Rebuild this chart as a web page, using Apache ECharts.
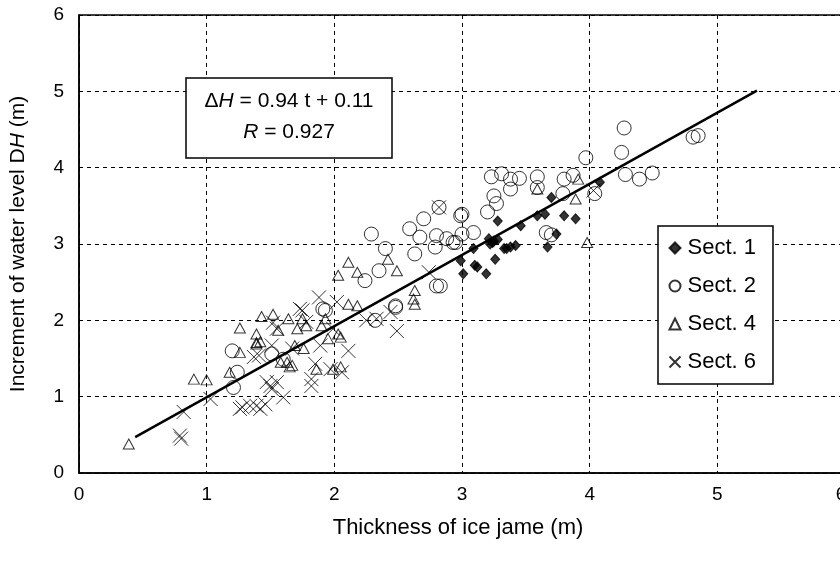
<!DOCTYPE html>
<html lang="en">
<head>
<meta charset="UTF-8">
<title>Ice jam thickness vs water level</title>
<style>
    * { margin: 0; padding: 0; }
    #chart { width: 840px; height: 561px; background: #fff; }
</style>
<script src="https://cdn.jsdelivr.net/npm/echarts@6/dist/echarts.min.js"></script>
</head>
<body>
<div id="chart"></div>
<script>
// [thickness t (m), increment dH (m)]
var sect1 = [[3.28,3.30],[2.99,2.78],[3.01,2.61],[3.09,2.94],[3.10,2.72],[3.12,2.70],[3.19,2.61],
    [3.21,3.07],[3.22,3.00],[3.25,3.04],[3.26,2.80],[3.33,2.94],[3.35,2.94],[3.38,2.96],[3.42,2.98],
    [3.46,3.24],[3.59,3.37],[3.65,3.39],[3.70,3.61],[3.74,3.13],[3.67,2.96],[3.80,3.37],[3.89,3.33],
    [4.08,3.81],[3.24,3.02],[3.28,3.06]];
var sect2 = [[4.27,4.52],[4.25,4.20],[4.28,3.91],[4.39,3.85],[4.49,3.93],[4.81,4.40],[4.85,4.42],
    [3.97,4.13],[3.87,3.90],[3.80,3.85],[3.79,3.66],[4.04,3.66],[3.59,3.88],[3.59,3.74],[3.45,3.86],
    [3.38,3.85],[3.31,3.92],[3.23,3.88],[3.25,3.63],[3.27,3.53],[3.20,3.42],[3.38,3.72],[3.00,3.39],
    [3.66,3.15],[2.83,2.45],[2.88,3.07],[2.95,3.02],[3.00,3.13],[3.09,3.15],[2.29,3.13],[2.40,2.94],
    [2.35,2.65],[2.24,2.52],[2.80,2.45],[2.82,3.48],[2.70,3.33],[2.59,3.20],[2.67,3.09],[2.80,3.11],
    [2.63,2.87],[2.79,2.96],[2.93,3.02],[2.99,3.37],[2.48,2.17],[2.32,2.00],[1.93,2.13],[1.20,1.60],
    [1.21,1.12],[1.24,1.32],[1.51,1.56],[1.60,1.49],[1.91,2.15],[2.48,2.19],[3.70,3.12]];
var sect4 = [[0.39,0.38],[0.90,1.23],[1.00,1.22],[1.26,1.90],[1.43,2.05],[1.52,2.08],[1.39,1.82],
    [1.39,1.71],[1.42,1.72],[1.26,1.58],[1.18,1.32],[1.39,1.69],[1.64,2.02],[1.71,1.89],[1.78,1.93],
    [1.56,1.87],[1.65,1.39],[1.63,1.45],[1.69,1.67],[1.76,1.63],[1.58,1.45],[1.75,2.02],[1.90,1.93],
    [1.93,2.02],[1.67,1.41],[1.86,1.36],[1.99,1.36],[2.05,1.39],[1.95,1.76],[2.03,1.82],[2.05,1.78],
    [2.11,2.21],[2.18,2.19],[2.03,2.59],[2.11,2.76],[2.18,2.63],[2.42,2.80],[2.49,2.65],[2.63,2.39],
    [2.62,2.28],[2.63,2.21],[3.59,3.72],[3.91,3.85],[3.89,3.59],[3.98,3.02]];
var sect6 = [[0.79,0.49],[0.80,0.45],[0.82,0.80],[1.03,0.97],[1.28,0.86],[1.34,0.88],[1.39,0.88],
    [1.42,0.84],[1.50,1.14],[1.52,1.97],[1.51,1.67],[1.37,1.52],[1.55,1.19],[1.26,0.84],[1.46,0.90],
    [1.51,1.10],[1.47,1.19],[1.60,0.99],[1.41,1.54],[1.55,1.89],[1.75,2.13],[1.67,1.63],[1.88,2.30],
    [1.73,2.15],[1.78,1.98],[1.99,1.89],[1.89,1.67],[2.11,1.60],[1.85,1.43],[1.82,1.23],[1.82,1.14],
    [1.97,1.36],[2.06,1.32],[2.25,2.00],[2.33,2.02],[2.44,2.11],[2.49,1.86],[2.74,2.63],[2.02,2.24],
    [2.82,3.48],[4.03,3.70]];
// fitted line dH = 0.94 t + 0.11, ends as drawn
var fitLine = [[0.44,0.47],[5.31,5.01]];

var chart = echarts.init(document.getElementById('chart'));
var font = 'Liberation Sans, Arial, sans-serif';
var crossPath = 'path://M0,0L10,10M10,0L0,10';

function scatter(name, data, symbol, size, filled) {
    return {
        name: name,
        type: 'scatter',
        data: data,
        symbol: symbol,
        symbolSize: size,
        itemStyle: {
            color: filled ? '#000' : 'none',
            borderColor: '#000',
            borderWidth: 1
        },
        z: 3
    };
}

var option = {
    backgroundColor: '#fff',
    animation: false,
    textStyle: { fontFamily: font, color: '#000' },
    grid: {
        left: 79, right: -5, top: 15, bottom: 88,
        outerBoundsMode: 'none',
        containLabel: false,
        show: true, borderColor: '#000', borderWidth: 1.5
    },
    xAxis: {
        type: 'value', min: 0, max: 6, interval: 1,
        name: 'Thickness of ice jame (m)',
        nameLocation: 'middle', nameGap: 44,
        nameTextStyle: { fontSize: 22, color: '#000', fontFamily: font, padding: [0, 8, 0, 0] },
        axisLine: { lineStyle: { color: '#000', width: 1.5 } },
        axisTick: { show: false },
        axisLabel: {
            fontSize: 19, color: '#000', margin: 12, fontFamily: font,
            formatter: function (v) { return v === 6 ? '{r|6}' : String(v); },
            rich: { r: { fontSize: 19, fontFamily: font, padding: [0, 8, 0, 0] } }
        },
        splitLine: { lineStyle: { color: '#000', type: [4, 4], width: 1 } }
    },
    yAxis: {
        type: 'value', min: 0, max: 6, interval: 1,
        name: 'Increment of water level D{i|H} (m)',
        nameLocation: 'middle', nameGap: 50,
        nameTextStyle: {
            fontSize: 21, color: '#000', fontFamily: font,
            rich: { i: { fontSize: 21, fontStyle: 'italic', fontFamily: font } }
        },
        axisLine: { lineStyle: { color: '#000', width: 1.5 } },
        axisTick: { show: false },
        axisLabel: { fontSize: 19, color: '#000', margin: 15, fontFamily: font },
        splitLine: { lineStyle: { color: '#000', type: [4, 4], width: 1 } }
    },
    legend: {
        orient: 'vertical',
        left: 658, top: 226,
        padding: [11, 17, 11, 9],
        itemGap: 16,
        itemWidth: 11, itemHeight: 11,
        backgroundColor: '#fff',
        borderColor: '#000', borderWidth: 1.5,
        textStyle: { fontSize: 22, color: '#000', fontFamily: font, padding: [0, 0, 0, 2] },
        data: ['Sect. 1', 'Sect. 2', 'Sect. 4', 'Sect. 6']
    },
    graphic: [{
        type: 'rect',
        shape: { x: 186, y: 78, width: 206, height: 80 },
        style: { fill: '#fff', stroke: '#000', lineWidth: 1.5 },
        z: 10
    }, {
        type: 'text',
        x: 289, y: 101,
        style: {
            text: 'Δ{i|H} = 0.94 t + 0.11',
            fontSize: 21, fontFamily: font, fill: '#000',
            align: 'center', verticalAlign: 'middle',
            rich: { i: { fontSize: 21, fontStyle: 'italic', fontFamily: font } }
        },
        z: 11
    }, {
        type: 'text',
        x: 289, y: 132,
        style: {
            text: '{i|R} = 0.927',
            fontSize: 21, fontFamily: font, fill: '#000',
            align: 'center', verticalAlign: 'middle',
            rich: { i: { fontSize: 21, fontStyle: 'italic', fontFamily: font } }
        },
        z: 11
    }],
    series: [
        scatter('Sect. 1', sect1, 'diamond', [9, 10], true),
        scatter('Sect. 2', sect2, 'circle', 14, false),
        scatter('Sect. 4', sect4, 'triangle', [11, 10], false),
        scatter('Sect. 6', sect6, crossPath, 14, false),
        {
            name: 'fit',
            type: 'line',
            data: fitLine,
            symbol: 'none',
            lineStyle: { color: '#000', width: 2.5 },
            z: 5
        }
    ]
};
chart.setOption(option);
</script>
</body>
</html>
